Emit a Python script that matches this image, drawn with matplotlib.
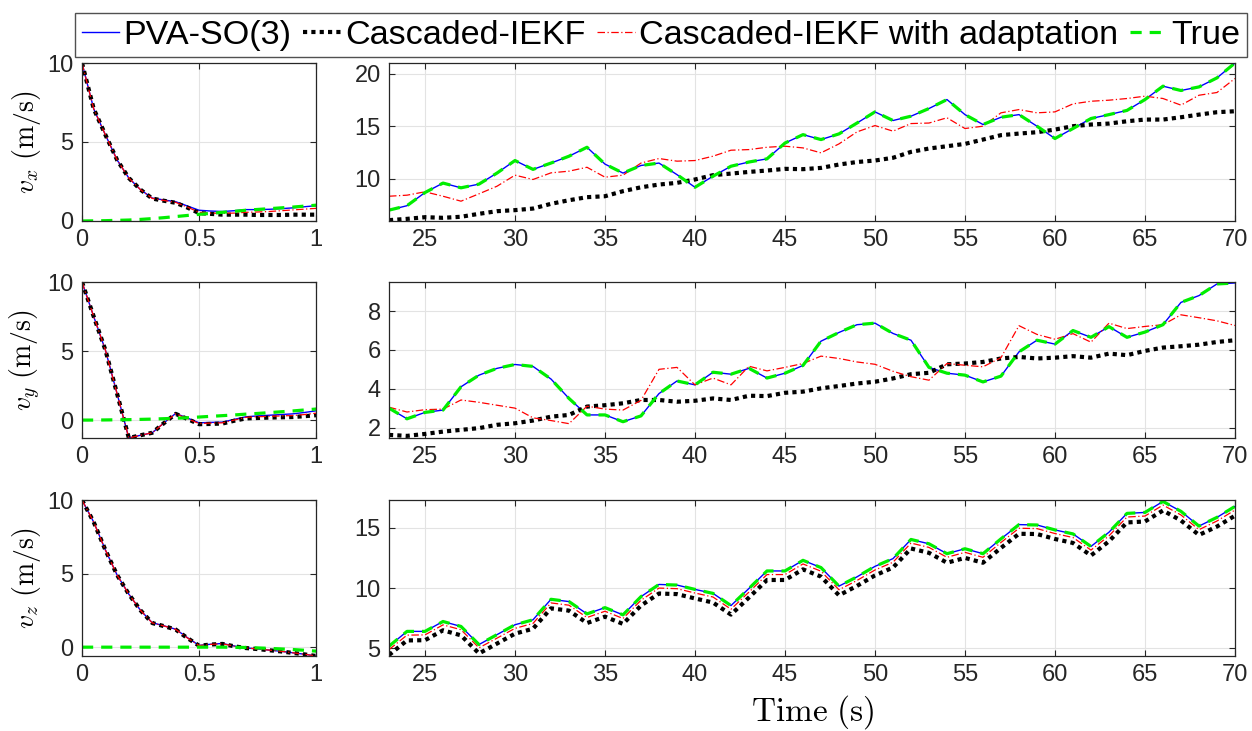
import numpy as np
import matplotlib
matplotlib.use('Agg')
import matplotlib.pyplot as plt
from matplotlib.ticker import FormatStrFormatter

plt.rcParams['mathtext.fontset'] = 'cm'
plt.rcParams['font.family'] = ['Liberation Sans', 'DejaVu Sans']

# ---- start-up transient (0..1 s) ----
t_l = [0.0, 0.05, 0.1, 0.15, 0.2, 0.25, 0.3, 0.35, 0.4, 0.45, 0.5,
       0.55, 0.6, 0.65, 0.7, 0.75, 0.8, 0.85, 0.9, 0.95, 1.0]

pva_vx_l = [10, 7.1, 5.45, 3.86, 2.72, 1.98, 1.45, 1.33, 1.22, 0.95, 0.68,
            0.63, 0.6, 0.65, 0.72, 0.72, 0.74, 0.78, 0.83, 0.9, 0.97]
iekf_vx_l = [10, 7.1, 5.45, 3.86, 2.72, 1.98, 1.42, 1.28, 1.15, 0.85, 0.5,
             0.45, 0.4, 0.4, 0.4, 0.38, 0.38, 0.38, 0.4, 0.4, 0.4]
adapt_vx_l = [10, 7.1, 5.45, 3.86, 2.72, 1.98, 1.43, 1.3, 1.18, 0.88, 0.55,
              0.5, 0.48, 0.5, 0.55, 0.57, 0.6, 0.65, 0.7, 0.75, 0.8]
true_vx_l = [0, 0.01, 0.02, 0.04, 0.06, 0.1, 0.15, 0.21, 0.28, 0.35, 0.42,
             0.48, 0.55, 0.61, 0.68, 0.73, 0.78, 0.83, 0.88, 0.94, 1.0]

pva_vy_l = [10, 7.5, 5.07, 1.9, -1.3, -1.1, -0.92, -0.2, 0.48, 0.15, -0.2,
            -0.17, -0.15, 0.05, 0.24, 0.3, 0.35, 0.4, 0.45, 0.55, 0.67]
iekf_vy_l = [10, 7.5, 5.07, 1.9, -1.3, -1.1, -0.92, -0.22, 0.45, 0.08, -0.3,
             -0.28, -0.25, -0.05, 0.12, 0.15, 0.18, 0.2, 0.22, 0.28, 0.35]
adapt_vy_l = [10, 7.5, 5.07, 1.9, -1.3, -1.1, -0.92, -0.21, 0.46, 0.1, -0.25,
              -0.22, -0.2, 0.0, 0.2, 0.24, 0.27, 0.3, 0.33, 0.4, 0.5]
true_vy_l = [0, 0.0, 0.01, 0.02, 0.03, 0.05, 0.07, 0.1, 0.13, 0.17, 0.22,
             0.27, 0.32, 0.37, 0.43, 0.48, 0.54, 0.6, 0.66, 0.73, 0.8]

pva_vz_l = [10, 8.5, 6.6, 4.9, 3.6, 2.5, 1.66, 1.45, 1.22, 0.65, 0.12,
            0.2, 0.25, 0.08, -0.05, -0.12, -0.2, -0.28, -0.38, -0.48, -0.6]
iekf_vz_l = [10, 8.5, 6.6, 4.9, 3.6, 2.5, 1.64, 1.43, 1.2, 0.62, 0.1,
             0.18, 0.22, 0.06, -0.06, -0.13, -0.21, -0.29, -0.39, -0.49, -0.6]
adapt_vz_l = [10, 8.5, 6.6, 4.9, 3.6, 2.5, 1.65, 1.44, 1.21, 0.63, 0.11,
              0.19, 0.23, 0.07, -0.05, -0.12, -0.2, -0.28, -0.38, -0.48, -0.6]
true_vz_l = [0, 0, 0, 0, 0, 0, 0, 0, 0, 0, 0,
             0, 0, -0.01, -0.02, -0.05, -0.08, -0.12, -0.16, -0.21, -0.27]

# ---- 23..70 s ----
t_r = list(range(23, 71))

true_vx_r = [7.03, 7.45, 8.7, 9.6, 9.15, 9.5, 10.55, 11.74, 10.9, 11.5,
             12.15, 13.0, 11.4, 10.55, 11.27, 11.5, 10.4, 9.2, 10.25, 11.2,
             11.6, 11.9, 13.4, 14.2, 13.73, 14.27, 15.3, 16.36, 15.54, 15.95,
             16.68, 17.53, 16.1, 15.16, 15.85, 16.1, 15.0, 13.83, 14.78, 15.73,
             16.1, 16.5, 17.53, 18.8, 18.39, 18.73, 19.59, 21.0]
adapt_vx_r = [8.35, 8.45, 8.77, 8.35, 7.88, 8.58, 9.3, 10.35, 9.94, 10.57,
              10.73, 11.1, 10.16, 10.35, 11.5, 11.93, 11.68, 11.74, 12.15, 12.72,
              12.78, 13.0, 13.1, 12.94, 12.47, 13.32, 14.46, 15.06, 14.53, 15.25,
              15.3, 15.8, 14.78, 15.0, 16.27, 16.58, 16.27, 16.36, 17.12, 17.37,
              17.47, 17.63, 17.85, 17.63, 17.0, 17.94, 18.2, 19.53]
iekf_vx_r = [6.08, 6.2, 6.36, 6.3, 6.4, 6.68, 6.93, 7.03, 7.18, 7.63,
             7.97, 8.26, 8.35, 8.83, 9.2, 9.46, 9.62, 9.94, 10.35, 10.5,
             10.66, 10.79, 10.95, 10.92, 11.04, 11.36, 11.6, 11.74, 12.0, 12.56,
             12.88, 13.1, 13.32, 13.73, 14.15, 14.3, 14.43, 14.68, 15.0, 15.16,
             15.25, 15.47, 15.63, 15.63, 15.85, 16.1, 16.33, 16.42]

true_vy_r = [3.0, 2.45, 2.78, 2.9, 4.1, 4.7, 5.05, 5.25, 5.15, 4.5,
             3.5, 2.65, 2.65, 2.3, 2.6, 3.75, 4.4, 4.2, 4.85, 4.75,
             5.05, 4.55, 4.8, 5.2, 6.45, 6.9, 7.3, 7.38, 6.85, 6.5,
             5.1, 4.8, 4.7, 4.35, 4.65, 5.9, 6.5, 6.3, 7.0, 6.65,
             7.2, 6.65, 6.92, 7.3, 8.45, 8.8, 9.4, 9.45]
adapt_vy_r = [3.05, 2.8, 2.92, 2.95, 3.42, 3.3, 3.15, 3.0, 2.5, 2.36,
              2.2, 3.1, 2.95, 2.9, 3.4, 5.0, 5.1, 4.2, 4.55, 4.2,
              5.16, 4.92, 5.1, 5.3, 5.68, 5.56, 5.38, 5.26, 4.9, 4.62,
              4.44, 5.3, 5.21, 5.13, 5.6, 7.25, 6.8, 6.55, 6.84, 6.4,
              7.38, 7.1, 7.21, 7.3, 7.81, 7.66, 7.5, 7.26]
iekf_vy_r = [1.62, 1.57, 1.67, 1.79, 1.88, 1.97, 2.14, 2.22, 2.36, 2.56,
             2.65, 3.08, 3.15, 3.25, 3.42, 3.42, 3.33, 3.38, 3.5, 3.42,
             3.64, 3.62, 3.79, 3.85, 4.02, 4.14, 4.27, 4.36, 4.53, 4.75,
             4.82, 5.26, 5.3, 5.38, 5.56, 5.64, 5.56, 5.6, 5.68, 5.6,
             5.81, 5.73, 5.95, 6.12, 6.19, 6.27, 6.41, 6.5]

true_vz_r = [5.18, 6.41, 6.41, 7.23, 6.82, 5.32, 6.14, 6.96, 7.37, 9.07,
             8.88, 7.86, 8.38, 7.78, 9.29, 10.3, 10.25, 9.89, 9.56, 8.55,
             9.97, 11.42, 11.42, 12.3, 11.7, 10.16, 10.93, 11.8, 12.44, 14.03,
             13.67, 12.85, 13.26, 12.85, 14.08, 15.26, 15.23, 14.82, 14.49, 13.45,
             14.63, 16.19, 16.27, 17.18, 16.36, 15.14, 15.86, 16.77]
adapt_vz_r = [4.9, 6.1, 6.12, 6.95, 6.55, 5.05, 5.85, 6.66, 7.07, 8.77,
              8.58, 7.56, 8.08, 7.48, 8.99, 10.0, 9.95, 9.59, 9.26, 8.25,
              9.67, 11.12, 11.12, 12.0, 11.4, 9.86, 10.63, 11.5, 12.14, 13.73,
              13.37, 12.55, 12.96, 12.55, 13.78, 14.96, 14.93, 14.52, 14.19, 13.15,
              14.33, 15.89, 15.97, 16.88, 16.06, 14.84, 15.56, 16.47]
iekf_vz_r = [4.45, 5.66, 5.68, 6.5, 6.08, 4.58, 5.4, 6.22, 6.63, 8.32,
             8.13, 7.1, 7.63, 7.03, 8.55, 9.55, 9.5, 9.14, 8.8, 7.8,
             9.22, 10.67, 10.67, 11.55, 10.95, 9.4, 10.18, 11.05, 11.7, 13.28,
             12.92, 12.1, 12.5, 12.1, 13.33, 14.5, 14.48, 14.07, 13.74, 12.7,
             13.88, 15.44, 15.52, 16.43, 15.6, 14.4, 15.1, 16.0]

# PVA-SO(3) sits on top of the true velocity after convergence
pva_vx_r = true_vx_r
pva_vy_r = true_vy_r
pva_vz_r = true_vz_r

labels = ['PVA-SO(3)', 'Cascaded-IEKF', 'Cascaded-IEKF with adaptation', 'True']
ylabels = [r'$v_x\ \mathrm{(m/s)}$', r'$v_y\ \mathrm{(m/s)}$', r'$v_z\ \mathrm{(m/s)}$']

left_data = [
    (pva_vx_l, iekf_vx_l, adapt_vx_l, true_vx_l),
    (pva_vy_l, iekf_vy_l, adapt_vy_l, true_vy_l),
    (pva_vz_l, iekf_vz_l, adapt_vz_l, true_vz_l),
]
right_data = [
    (pva_vx_r, iekf_vx_r, adapt_vx_r, true_vx_r),
    (pva_vy_r, iekf_vy_r, adapt_vy_r, true_vy_r),
    (pva_vz_r, iekf_vz_r, adapt_vz_r, true_vz_r),
]
left_ylim = [(0, 10), (-1.3, 10), (-0.6, 10)]
right_ylim = [(6.0, 21.0), (1.46, 9.5), (4.37, 17.3)]
right_yticks = [[10, 15, 20], [2, 4, 6, 8], [5, 10, 15]]

row_bottom = [0.6977, 0.4008, 0.1026]
row_height = [0.2161, 0.2134, 0.2134]

styles = [
    dict(color='#0000ff', lw=1.0, ls='-'),
    dict(color='black', lw=3.0, ls=(0, (1, 1))),
    dict(color='#ff0000', lw=0.9, ls=(0, (6, 2, 1, 2))),
    dict(color='#00ee00', lw=2.3, ls=(0, (3.5, 2.5))),
]

axis_col = '#262626'


def style_axes(ax):
    ax.grid(True, color='#e3e3e3', lw=0.8)
    ax.set_axisbelow(True)
    for s in ax.spines.values():
        s.set_color(axis_col)
        s.set_linewidth(0.9)
    ax.tick_params(direction='in', top=True, right=True, length=4,
                   labelsize=17, colors=axis_col, pad=6)


fig = plt.figure(figsize=(12.52, 7.31), dpi=100)

handles = []
for r in range(3):
    axl = fig.add_axes([0.0655, row_bottom[r], 0.187, row_height[r]])
    axr = fig.add_axes([0.3107, row_bottom[r], 0.6757, row_height[r]])

    for k in range(4):
        h, = axl.plot(t_l, left_data[r][k], label=labels[k], **styles[k])
        axr.plot(t_r, right_data[r][k], **styles[k])
        if r == 0:
            handles.append(h)

    axl.set_xlim(0, 1)
    axl.set_ylim(*left_ylim[r])
    axl.set_xticks([0, 0.5, 1])
    axl.set_yticks([0, 5, 10])
    axl.xaxis.set_major_formatter(FormatStrFormatter('%g'))
    axl.set_ylabel(ylabels[r], fontsize=20)
    axl.yaxis.set_label_coords(-0.165, 0.5)

    axr.set_xlim(23, 70)
    axr.set_ylim(*right_ylim[r])
    axr.set_xticks(range(25, 71, 5))
    axr.set_yticks(right_yticks[r])

    style_axes(axl)
    style_axes(axr)

fig.text(0.649, 0.026, r'$\mathrm{Time\ (s)}$', ha='center', va='center', fontsize=24)

fig.legend(handles, labels, loc='center', bbox_to_anchor=(0.528, 0.952), ncol=4,
           fontsize=24.6, frameon=True, fancybox=False, edgecolor=axis_col,
           handlelength=1.1, handletextpad=0.12, columnspacing=0.35,
           borderpad=0.18, borderaxespad=0)

fig.savefig('out.png', dpi=100)
